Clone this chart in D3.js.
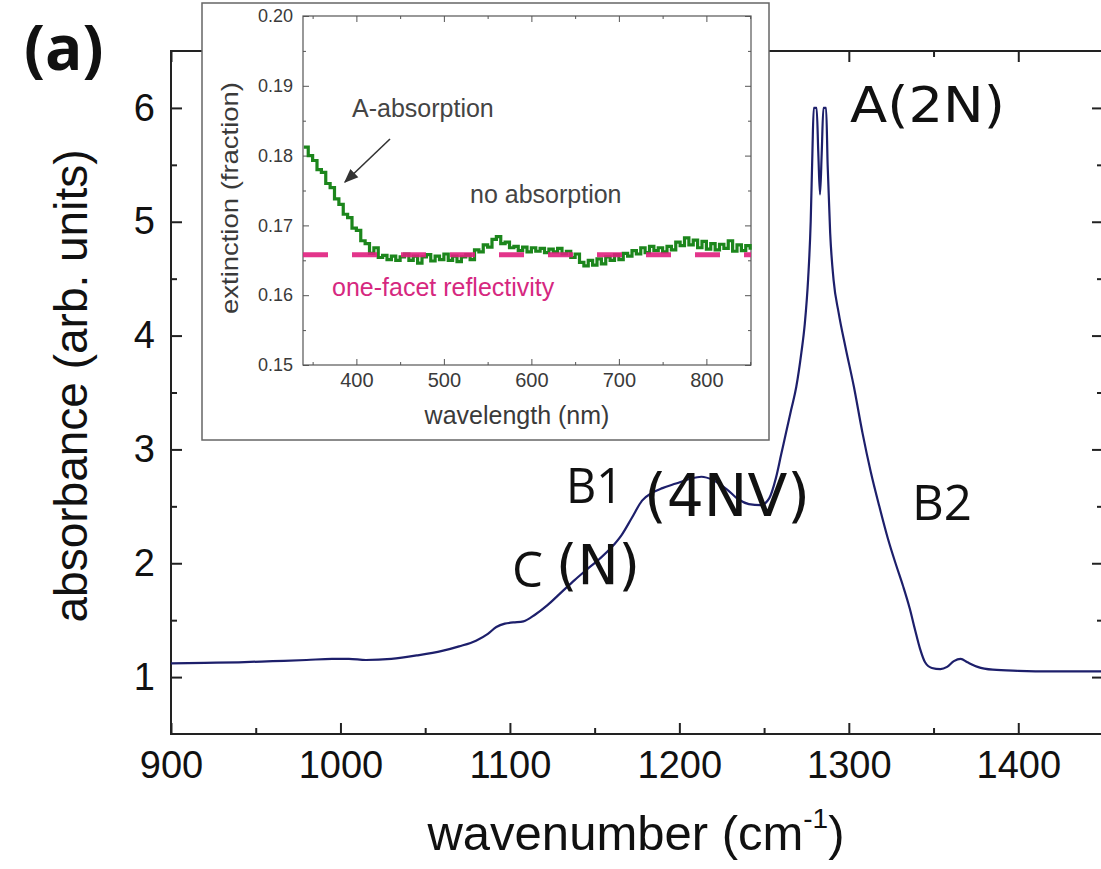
<!DOCTYPE html>
<html>
<head>
<meta charset="utf-8">
<script src="https://cdn.jsdelivr.net/npm/d3@7"></script>
<style>
    body { margin: 0; background: #fff; }
    svg { display: block; }
</style>
</head>
<body>
<svg id="chart" width="1101" height="869"></svg>
<script>
// main spectrum: wavenumber (cm-1) vs absorbance
var wavenumber = [900, 920, 940, 960, 980, 995, 1005, 1015, 1030, 1045, 1060, 1070, 1080, 1087, 1092, 1097,
    1102, 1108, 1115, 1122, 1130, 1138, 1145, 1153, 1160, 1166, 1172, 1178, 1184, 1190, 1198, 1206,
    1213, 1220, 1228, 1235, 1241, 1248, 1253, 1257, 1260, 1263, 1266, 1269, 1272, 1274, 1276, 1277.5,
    1278.5, 1279.3, 1281, 1282, 1283, 1284, 1285, 1286.6, 1287.5, 1289, 1291, 1294, 1298, 1303, 1308,
    1313, 1318, 1323, 1328, 1332, 1336, 1339, 1342, 1345, 1349, 1354, 1358, 1362, 1366, 1370, 1376,
    1385, 1400, 1420, 1450];
var absorbance = [1.12, 1.125, 1.13, 1.14, 1.15, 1.16, 1.16, 1.15, 1.16, 1.19, 1.23, 1.27, 1.32, 1.38, 1.44, 1.47,
    1.48, 1.49, 1.55, 1.63, 1.74, 1.85, 1.94, 2.04, 2.14, 2.25, 2.40, 2.55, 2.62, 2.66, 2.70, 2.74,
    2.76, 2.73, 2.65, 2.56, 2.52, 2.51, 2.57, 2.75, 2.95, 3.15, 3.35, 3.55, 3.85, 4.10, 4.50, 5.0,
    5.6, 6.0, 6.0, 5.6, 5.24, 5.6, 6.0, 6.0, 5.5, 4.9, 4.49, 4.20, 3.90, 3.55, 3.15,
    2.80, 2.50, 2.22, 1.98, 1.80, 1.60, 1.42, 1.25, 1.13, 1.08, 1.07, 1.09, 1.14, 1.16, 1.13, 1.09,
    1.065, 1.055, 1.05, 1.05];

// inset: wavelength (nm) vs extinction
var wavelength = [340, 345, 350, 355, 360, 365, 370, 375, 380, 385, 390, 395, 400, 405, 410, 415, 420, 425,
    430, 435, 440, 445, 450, 455, 460, 465, 470, 475, 480, 485, 490, 495, 500, 505, 510, 515, 520, 525,
    530, 535, 540, 545, 550, 555, 560, 565, 570, 575, 580, 585, 590, 595, 600, 605, 610, 615, 620, 625,
    630, 635, 640, 645, 650, 655, 660, 665, 670, 675, 680, 685, 690, 695, 700, 705, 710, 715, 720, 725,
    730, 735, 740, 745, 750, 755, 760, 765, 770, 775, 780, 785, 790, 795, 800, 805, 810, 815, 820, 825,
    830, 835, 840, 845, 850];
var extinction = [.1812, .1800, .1793, .1780, .1776, .1760, .1754, .1738, .1730, .1716, .1711, .1696, .1693, .1678,
    .1674, .1660, .1668, .1654, .1657, .1651, .1656, .1650, .1655, .1659, .1650, .1656, .1646, .1655, .1658,
    .1649, .1656, .1651, .1659, .1650, .1656, .1648, .1655, .1658, .1651, .1665, .1662, .1672, .1669, .1680,
    .1684, .1674, .1676, .1668, .1670, .1664, .1669, .1662, .1668, .1663, .1667, .1661, .1666, .1662, .1667,
    .1659, .1663, .1654, .1659, .1647, .1642, .1650, .1643, .1652, .1645, .1655, .1650, .1658, .1651, .1660,
    .1656, .1664, .1659, .1668, .1661, .1670, .1664, .1668, .1662, .1670, .1665, .1676, .1671, .1682, .1672,
    .1679, .1668, .1677, .1666, .1674, .1665, .1673, .1667, .1678, .1663, .1672, .1664, .1671, .1665];
var reflectivity = 0.1658;

var xTicks = [900, 1000, 1100, 1200, 1300, 1400];
var xMinor = [950, 1050, 1150, 1250, 1350];
var yTicks = [1, 2, 3, 4, 5, 6];
var yMinor = [1.5, 2.5, 3.5, 4.5, 5.5];
var inXTicks = [400, 500, 600, 700, 800];
var inXMinor = [350, 450, 550, 650, 750, 850];
var inYTicks = [0.15, 0.16, 0.17, 0.18, 0.19, 0.20];
var inYMinor = [0.155, 0.165, 0.175, 0.185, 0.195];

var svg = d3.select('#chart');
var sans = 'Liberation Sans, Arial, sans-serif';

var x = d3.scaleLinear().domain([900, 1450]).range([171, 1103]);
var y = d3.scaleLinear().domain([0.5, 6.5]).range([734, 51]);

function styleAxis(g, w) {
    g.select('.domain').remove();
    g.selectAll('line').attr('stroke', '#222').attr('stroke-width', w);
}

// major + minor ticks on all four sides, pointing inwards
svg.append('g').attr('transform', 'translate(0,734)')
    .call(d3.axisBottom(x).tickValues(xTicks).tickSize(-11).tickPadding(17).tickFormat(d3.format('d')))
    .call(styleAxis, 2)
    .selectAll('text').attr('font-family', sans).attr('font-size', 38).attr('fill', '#111');
svg.append('g').attr('transform', 'translate(0,734)')
    .call(d3.axisBottom(x).tickValues(xMinor).tickSize(-6).tickFormat(''))
    .call(styleAxis, 2);
svg.append('g').attr('transform', 'translate(0,51)')
    .call(d3.axisTop(x).tickValues(xTicks).tickSize(-11).tickFormat(''))
    .call(styleAxis, 2);
svg.append('g').attr('transform', 'translate(0,51)')
    .call(d3.axisTop(x).tickValues(xMinor).tickSize(-6).tickFormat(''))
    .call(styleAxis, 2);
svg.append('g').attr('transform', 'translate(171,0)')
    .call(d3.axisLeft(y).tickValues(yTicks).tickSize(-11).tickPadding(16).tickFormat(d3.format('d')))
    .call(styleAxis, 2)
    .selectAll('text').attr('font-family', sans).attr('font-size', 38).attr('fill', '#111');
svg.append('g').attr('transform', 'translate(171,0)')
    .call(d3.axisLeft(y).tickValues(yMinor).tickSize(-6).tickFormat(''))
    .call(styleAxis, 2);
svg.append('g').attr('transform', 'translate(1103,0)')
    .call(d3.axisRight(y).tickValues(yTicks).tickSize(-11).tickFormat(''))
    .call(styleAxis, 2);
svg.append('g').attr('transform', 'translate(1103,0)')
    .call(d3.axisRight(y).tickValues(yMinor).tickSize(-6).tickFormat(''))
    .call(styleAxis, 2);

svg.append('rect')
    .attr('x', 171).attr('y', 51).attr('width', 1103 - 171).attr('height', 734 - 51)
    .attr('fill', 'none').attr('stroke', '#222').attr('stroke-width', 2);

// spectrum
var line = d3.line()
    .x(function(d, i) { return x(wavenumber[i]); })
    .y(function(d) { return y(d); })
    .curve(d3.curveMonotoneX);

svg.append('path')
    .datum(absorbance)
    .attr('d', line)
    .attr('fill', 'none')
    .attr('stroke', '#1d1f6b')
    .attr('stroke-width', 2.2);

// axis titles
svg.append('text')
    .attr('transform', 'translate(87,386) rotate(-90)')
    .attr('text-anchor', 'middle')
    .attr('font-family', sans)
    .attr('font-size', 46)
    .attr('fill', '#111')
    .text('absorbance (arb. units)');

var xt = svg.append('text')
    .attr('x', 636).attr('y', 850)
    .attr('text-anchor', 'middle')
    .attr('font-family', sans)
    .attr('font-size', 49)
    .attr('fill', '#111');
xt.append('tspan').text('wavenumber (cm');
xt.append('tspan').attr('font-size', 28).attr('dy', -22).text('-1');
xt.append('tspan').attr('dy', 22).text(')');

svg.append('text')
    .attr('x', 24).attr('y', 70)
    .attr('font-family', 'Open Sans, sans-serif')
    .attr('font-weight', 700)
    .attr('font-size', 62)
    .attr('fill', '#111')
    .text('(a)');

// peak labels
var labels = [
    { t: 'A(2N)', x: 850, y: 122, size: 50, w: 155, f: 'DejaVu Sans' },
    { t: 'B1', x: 566, y: 503, size: 50, w: 57, f: 'Open Sans' },
    { t: '(4NV)', x: 644, y: 516, size: 58, w: 166, f: 'DejaVu Sans' },
    { t: 'C', x: 512, y: 587, size: 50, w: 31, f: 'Open Sans' },
    { t: '(N)', x: 556, y: 584, size: 56, w: 84, f: 'DejaVu Sans' },
    { t: 'B2', x: 912, y: 520, size: 50, w: 60, f: 'Open Sans' }
];
svg.selectAll('.peak')
    .data(labels)
    .enter()
    .append('text')
    .attr('class', 'peak')
    .attr('x', function(d) { return d.x; })
    .attr('y', function(d) { return d.y; })
    .attr('font-family', function(d) { return d.f + ', sans-serif'; })
    .attr('font-size', function(d) { return d.size; })
    .attr('textLength', function(d) { return d.w; })
    .attr('lengthAdjust', 'spacingAndGlyphs')
    .attr('fill', '#111')
    .text(function(d) { return d.t; });

// ---- inset ----
var inset = svg.append('g');
inset.append('rect')
    .attr('x', 202).attr('y', 3).attr('width', 769 - 202).attr('height', 440 - 3)
    .attr('fill', '#fff').attr('stroke', '#666').attr('stroke-width', 1.5);

var ix = d3.scaleLinear().domain([339, 851]).range([303, 751]);
var iy = d3.scaleLinear().domain([0.15, 0.20]).range([365, 16]);

function styleInset(g) {
    g.select('.domain').remove();
    g.selectAll('line').attr('stroke', '#555').attr('stroke-width', 1);
}

inset.append('g').attr('transform', 'translate(0,365)')
    .call(d3.axisBottom(ix).tickValues(inXTicks).tickSize(-6).tickPadding(8).tickFormat(d3.format('d')))
    .call(styleInset)
    .selectAll('text').attr('font-family', sans).attr('font-size', 20).attr('fill', '#3a3a3a');
inset.append('g').attr('transform', 'translate(0,365)')
    .call(d3.axisBottom(ix).tickValues(inXMinor).tickSize(-3).tickFormat(''))
    .call(styleInset);
inset.append('g').attr('transform', 'translate(0,16)')
    .call(d3.axisTop(ix).tickValues(inXTicks).tickSize(-6).tickFormat(''))
    .call(styleInset);
inset.append('g').attr('transform', 'translate(0,16)')
    .call(d3.axisTop(ix).tickValues(inXMinor).tickSize(-3).tickFormat(''))
    .call(styleInset);
inset.append('g').attr('transform', 'translate(303,0)')
    .call(d3.axisLeft(iy).tickValues(inYTicks).tickSize(-6).tickPadding(10).tickFormat(d3.format('.2f')))
    .call(styleInset)
    .selectAll('text').attr('font-family', sans).attr('font-size', 18).attr('fill', '#3a3a3a');
inset.append('g').attr('transform', 'translate(303,0)')
    .call(d3.axisLeft(iy).tickValues(inYMinor).tickSize(-3).tickFormat(''))
    .call(styleInset);
inset.append('g').attr('transform', 'translate(751,0)')
    .call(d3.axisRight(iy).tickValues(inYTicks).tickSize(-6).tickFormat(''))
    .call(styleInset);
inset.append('g').attr('transform', 'translate(751,0)')
    .call(d3.axisRight(iy).tickValues(inYMinor).tickSize(-3).tickFormat(''))
    .call(styleInset);
inset.append('rect')
    .attr('x', 303).attr('y', 16).attr('width', 751 - 303).attr('height', 365 - 16)
    .attr('fill', 'none').attr('stroke', '#555').attr('stroke-width', 1.2);

var greenLine = d3.line()
    .x(function(d, i) { return ix(wavelength[i]); })
    .y(function(d) { return iy(d); })
    .curve(d3.curveStepAfter);

inset.append('path')
    .datum(extinction)
    .attr('d', greenLine)
    .attr('fill', 'none')
    .attr('stroke', '#1c861c')
    .attr('stroke-width', 3.2);

inset.append('line')
    .attr('x1', ix(339)).attr('x2', ix(851))
    .attr('y1', iy(reflectivity)).attr('y2', iy(reflectivity))
    .attr('stroke', '#e0207f')
    .attr('stroke-width', 5)
    .attr('stroke-dasharray', '25,24')
    .attr('opacity', 0.9);

inset.append('text')
    .attr('transform', 'translate(238,198) rotate(-90)')
    .attr('text-anchor', 'middle')
    .attr('font-family', sans)
    .attr('font-size', 24)
    .attr('textLength', 232)
    .attr('lengthAdjust', 'spacingAndGlyphs')
    .attr('fill', '#3a3a3a')
    .text('extinction (fraction)');

inset.append('text')
    .attr('x', 517).attr('y', 424)
    .attr('text-anchor', 'middle')
    .attr('font-family', sans)
    .attr('font-size', 25)
    .attr('fill', '#3a3a3a')
    .text('wavelength (nm)');

inset.append('text')
    .attr('x', 352).attr('y', 117)
    .attr('font-family', sans)
    .attr('font-size', 25)
    .attr('fill', '#444')
    .text('A-absorption');

inset.append('text')
    .attr('x', 470).attr('y', 203)
    .attr('font-family', sans)
    .attr('font-size', 25)
    .attr('fill', '#444')
    .text('no absorption');

inset.append('text')
    .attr('x', 332).attr('y', 296)
    .attr('font-family', sans)
    .attr('font-size', 25)
    .attr('fill', '#d6287f')
    .text('one-facet reflectivity');

// arrow
svg.append('defs').append('marker')
    .attr('id', 'head')
    .attr('viewBox', '0 0 10 10')
    .attr('refX', 9).attr('refY', 5)
    .attr('markerWidth', 9).attr('markerHeight', 9)
    .attr('orient', 'auto')
    .append('path')
    .attr('d', 'M0,1 L10,5 L0,9 z')
    .attr('fill', '#333');

inset.append('line')
    .attr('x1', 390).attr('y1', 139)
    .attr('x2', 345).attr('y2', 182)
    .attr('stroke', '#333')
    .attr('stroke-width', 1.6)
    .attr('marker-end', 'url(#head)');
</script>
</body>
</html>
